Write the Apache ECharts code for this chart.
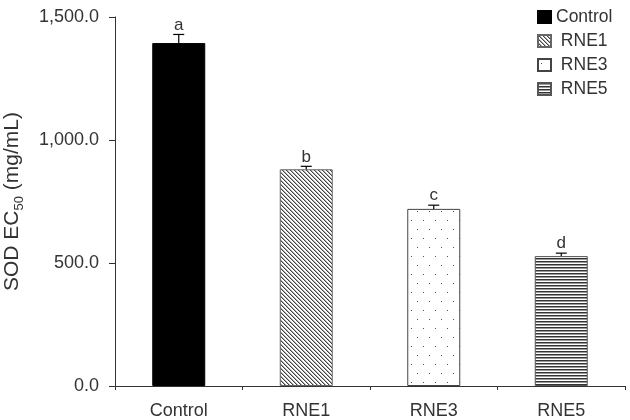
<!DOCTYPE html>
<html>
<head>
<meta charset="utf-8">
<script src="https://cdn.jsdelivr.net/npm/echarts@6/dist/echarts.min.js"></script>
<style>
  html, body { margin: 0; padding: 0; background: #fff; }
  #main { width: 630px; height: 420px; }
</style>
</head>
<body>
<div id="main"></div>
<script>
var categories = ['Control', 'RNE1', 'RNE3', 'RNE5'];
var means = [1394, 881, 720, 528];
var errors = [35, 12, 15, 12];
var letters = ['a', 'b', 'c', 'd'];

var FONT = 'Liberation Sans, Arial, sans-serif';
var TXT = '#333';

// hatch fills
function makeTile(w, h, draw) {
    var c = document.createElement('canvas');
    c.width = w;
    c.height = h;
    var ctx = c.getContext('2d');
    ctx.fillStyle = '#fff';
    ctx.fillRect(0, 0, w, h);
    draw(ctx);
    return { image: c, repeat: 'repeat' };
}

var diagFill = makeTile(4, 4, function (ctx) {
    for (var y = 0; y < 4; y++) {
        for (var x = 0; x < 4; x++) {
            var k = (x - y + 8) % 4;
            if (k === 0) { ctx.fillStyle = '#444'; ctx.fillRect(x, y, 1, 1); }
            else if (k === 1) { ctx.fillStyle = '#aaa'; ctx.fillRect(x, y, 1, 1); }
        }
    }
});

var dotFill = makeTile(12, 18, function (ctx) {
    ctx.fillStyle = '#555';
    ctx.fillRect(3, 4, 1, 1);
    ctx.fillRect(9, 13, 1, 1);
});

var lineFill = makeTile(1, 3, function (ctx) {
    ctx.fillStyle = '#333';
    ctx.fillRect(0, 0, 1, 1);
    ctx.fillStyle = '#999';
    ctx.fillRect(0, 1, 1, 1);
});

var fills = ['#000', diagFill, dotFill, lineFill];
var borders = ['#000', '#666', '#444', '#555'];

var myChart = echarts.init(document.getElementById('main'));

var barSeries = categories.map(function (name, i) {
    return {
        name: name,
        type: 'bar',
        barWidth: 53,
        barGap: '-100%',
        data: categories.map(function (c, j) { return j === i ? means[j] : '-'; }),
        itemStyle: { color: fills[i], borderColor: borders[i], borderWidth: 1 },
        emphasis: { disabled: true }
    };
});

var errSeries = {
    type: 'custom',
    z: 5,
    data: categories.map(function (c, i) { return [i, means[i], errors[i], letters[i]]; }),
    renderItem: function (params, api) {
        var idx = api.value(0);
        var m = api.value(1);
        var e = api.value(2);
        var top = api.coord([idx, m + e]);
        var bot = api.coord([idx, m]);
        var cap = 5.5;
        return {
            type: 'group',
            children: [
                { type: 'line', shape: { x1: top[0], y1: top[1], x2: bot[0], y2: bot[1] }, style: { stroke: '#000', lineWidth: 1.2 } },
                { type: 'line', shape: { x1: top[0] - cap, y1: top[1], x2: top[0] + cap, y2: top[1] }, style: { stroke: '#000', lineWidth: 1.2 } },
                { type: 'text', style: { text: letters[params.dataIndex], x: top[0], y: top[1] - 1, align: 'center', verticalAlign: 'bottom', fontSize: 17, fontFamily: FONT, fill: TXT } }
            ]
        };
    }
};

var option = {
    animation: false,
    backgroundColor: '#fff',
    grid: { left: 115, right: 5, top: 17, bottom: 34, outerBoundsMode: 'none', containLabel: false },
    legend: {
        orient: 'vertical',
        left: 537,
        top: 8,
        padding: 0,
        icon: 'rect',
        itemWidth: 13,
        itemHeight: 12,
        itemGap: 6,
        data: categories,
        formatter: function (name) { return name === 'Control' ? name : ' ' + name; },
        textStyle: { fontSize: 17.5, fontFamily: FONT, color: TXT }
    },
    xAxis: {
        type: 'category',
        data: categories,
        axisLine: { lineStyle: { color: '#333', width: 1 } },
        axisTick: { show: true, length: 4, lineStyle: { color: '#333' } },
        axisLabel: { fontSize: 18, fontFamily: FONT, color: TXT, margin: 16 }
    },
    yAxis: {
        type: 'value',
        min: 0,
        max: 1500,
        interval: 500,
        splitLine: { show: false },
        axisLine: { show: true, lineStyle: { color: '#333', width: 1 } },
        axisTick: { show: true, length: 6, lineStyle: { color: '#333' } },
        axisLabel: {
            fontSize: 18, fontFamily: FONT, color: TXT, margin: 16,
            formatter: function (v) {
                return v.toLocaleString('en-US', { minimumFractionDigits: 1, maximumFractionDigits: 1 });
            }
        },
        name: '{t|SOD EC}{s|50}{t| (mg/mL)}',
        nameLocation: 'middle',
        nameGap: 92,
        nameTextStyle: {
            rich: {
                t: { fontSize: 21, fontFamily: FONT, color: TXT },
                s: { fontSize: 13, fontFamily: FONT, color: TXT, verticalAlign: 'bottom', padding: [0, 0, -3, 0] }
            }
        }
    },
    series: barSeries.concat([errSeries])
};

myChart.setOption(option);
</script>
</body>
</html>
